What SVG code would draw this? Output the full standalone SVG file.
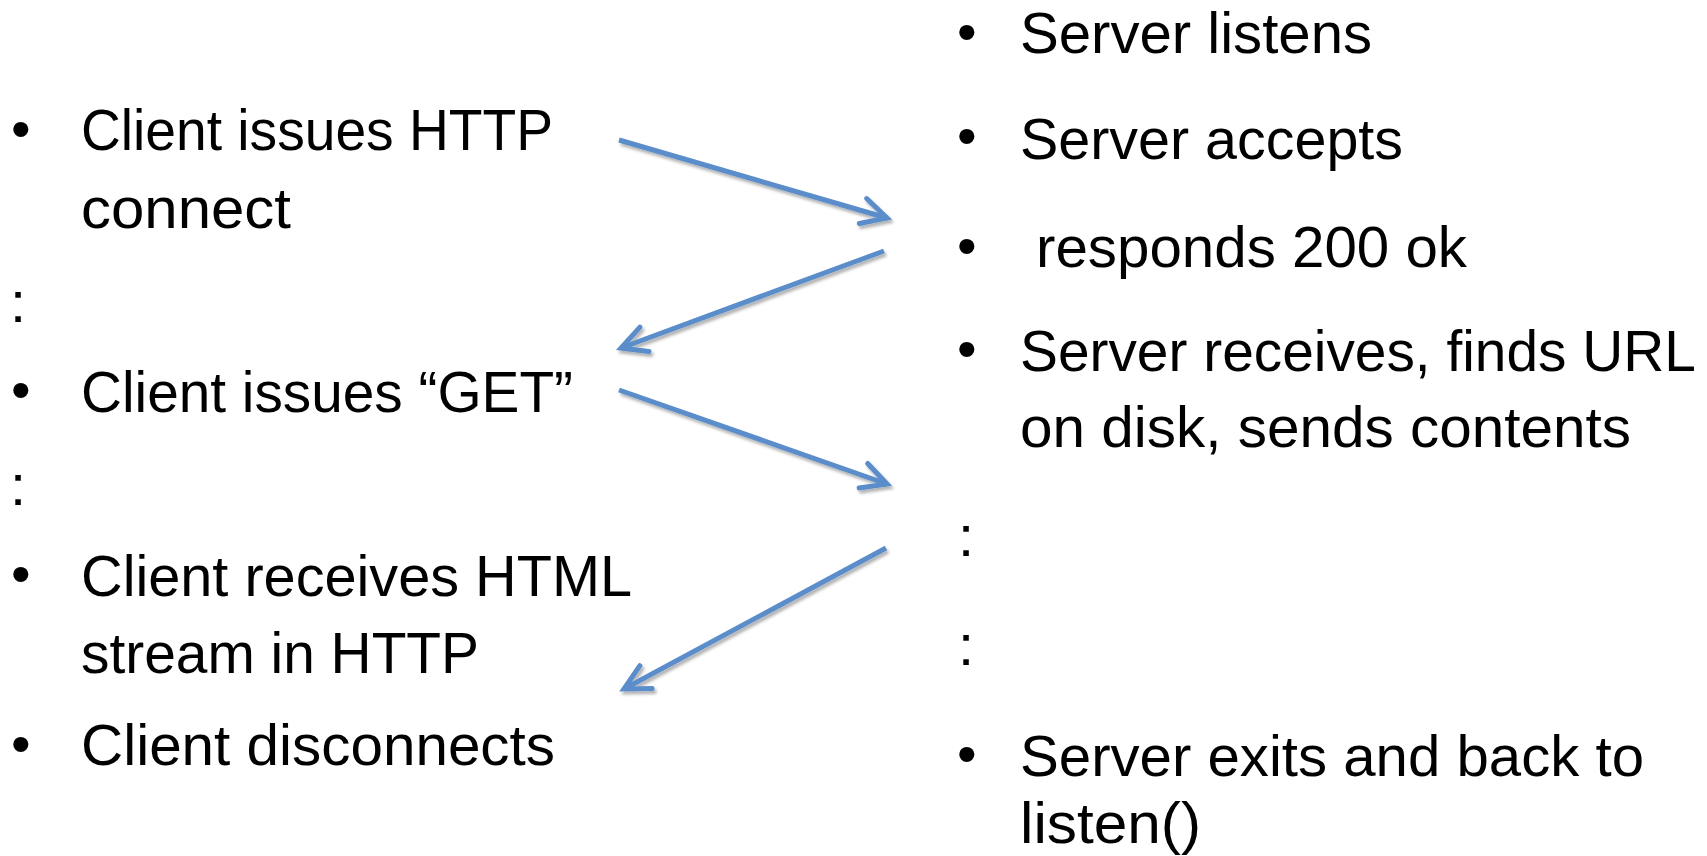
<svg xmlns="http://www.w3.org/2000/svg" width="1707" height="856" viewBox="0 0 1707 856">
  <style>
    .t { font-family: "Liberation Sans", Arial, sans-serif; font-size: 58px; fill: #000; }
    .b { font-family: "Liberation Sans", Arial, sans-serif; font-size: 56px; fill: #000; }
    .arrow { fill: none; stroke: #5A8DCA; stroke-width: 5; marker-end: url(#head); filter: url(#shadow); }
  </style>
  <defs>
    <marker id="head" markerUnits="userSpaceOnUse" markerWidth="44" markerHeight="44" viewBox="-32 -22 44 44" refX="0" refY="0" orient="auto">
      <path d="M-25,-13 L0,0 L-25,13" fill="none" stroke="#5A8DCA" stroke-width="5" stroke-linejoin="miter" stroke-linecap="round"/>
    </marker>
    <filter id="shadow" x="-10%" y="-10%" width="120%" height="130%">
      <feDropShadow dx="2" dy="3" stdDeviation="1.5" flood-color="#000" flood-opacity="0.3"/>
    </filter>
  </defs>
  <rect width="1707" height="856" fill="#fff"/>

  <g id="client-connect">
    <text class="b" x="11" y="148">•</text>
    <text class="t" x="81" y="150" textLength="472" lengthAdjust="spacingAndGlyphs">Client issues HTTP</text>
    <text class="t" x="81" y="228" textLength="210" lengthAdjust="spacingAndGlyphs">connect</text>
  </g>
  <g id="client-colon-1"><text class="t" x="10" y="322">:</text></g>
  <g id="client-get">
    <text class="b" x="11" y="409">•</text>
    <text class="t" x="81" y="412" textLength="492" lengthAdjust="spacingAndGlyphs">Client issues “GET”</text>
  </g>
  <g id="client-colon-2"><text class="t" x="10" y="505">:</text></g>
  <g id="client-receives">
    <text class="b" x="11" y="593">•</text>
    <text class="t" x="81" y="596" textLength="551" lengthAdjust="spacingAndGlyphs">Client receives HTML</text>
    <text class="t" x="81" y="673" textLength="398" lengthAdjust="spacingAndGlyphs">stream in HTTP</text>
  </g>
  <g id="client-disconnects">
    <text class="b" x="11" y="763">•</text>
    <text class="t" x="81" y="765" textLength="474" lengthAdjust="spacingAndGlyphs">Client disconnects</text>
  </g>

  <g id="server-listens">
    <text class="b" x="957" y="51">•</text>
    <text class="t" x="1020" y="53" textLength="352" lengthAdjust="spacingAndGlyphs">Server listens</text>
  </g>
  <g id="server-accepts">
    <text class="b" x="957" y="155">•</text>
    <text class="t" x="1020" y="159" textLength="383" lengthAdjust="spacingAndGlyphs">Server accepts</text>
  </g>
  <g id="server-responds">
    <text class="b" x="957" y="265">•</text>
    <text class="t" x="1036" y="267" textLength="431" lengthAdjust="spacingAndGlyphs">responds 200 ok</text>
  </g>
  <g id="server-receives">
    <text class="b" x="957" y="368">•</text>
    <text class="t" x="1020" y="371" textLength="676" lengthAdjust="spacingAndGlyphs">Server receives, finds URL</text>
    <text class="t" x="1020" y="447" textLength="611" lengthAdjust="spacingAndGlyphs">on disk, sends contents</text>
  </g>
  <g id="server-colon-1"><text class="t" x="958" y="556">:</text></g>
  <g id="server-colon-2"><text class="t" x="958" y="665">:</text></g>
  <g id="server-exits">
    <text class="b" x="957" y="773">•</text>
    <text class="t" x="1020" y="776" textLength="624" lengthAdjust="spacingAndGlyphs">Server exits and back to</text>
    <text class="t" x="1020" y="843" textLength="181" lengthAdjust="spacingAndGlyphs">listen()</text>
  </g>

  <g id="connectors">
    <line class="arrow" x1="619" y1="140" x2="887" y2="218"/>
    <line class="arrow" x1="884" y1="251" x2="621" y2="348"/>
    <line class="arrow" x1="619" y1="390" x2="887" y2="484"/>
    <line class="arrow" x1="886" y1="548" x2="624" y2="689"/>
  </g>
</svg>
